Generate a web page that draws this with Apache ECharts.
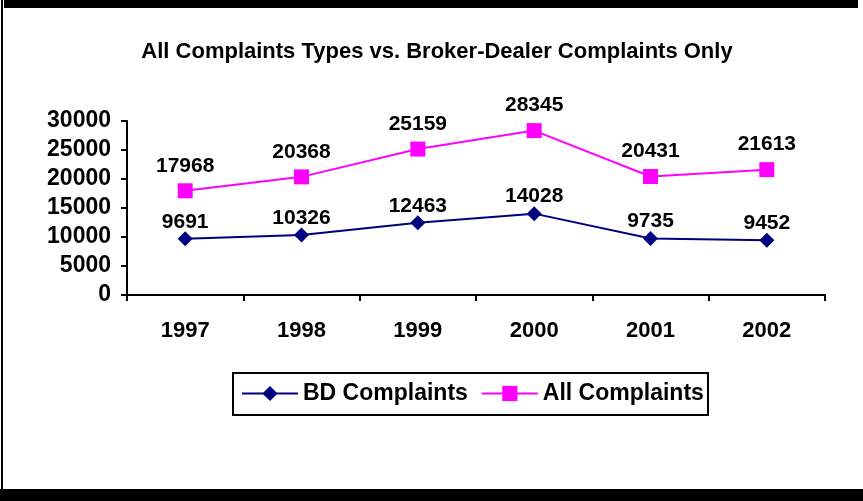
<!DOCTYPE html>
<html><head><meta charset="utf-8">
<script src="https://cdn.jsdelivr.net/npm/echarts@6/dist/echarts.min.js"></script>
<style>html,body{margin:0;padding:0;background:#fff}#c{width:863px;height:501px}</style>
</head><body><div id="c"></div>
<script>
const years = ['1997','1998','1999','2000','2001','2002'];
const bdComplaints = [9691, 10326, 12463, 14028, 9735, 9452];
const allComplaints = [17968, 20368, 25159, 28345, 20431, 21613];
const yTicks = [0, 5000, 10000, 15000, 20000, 25000, 30000];

const chart = echarts.init(document.getElementById('c'), null, {renderer:'canvas'});
const font = 'Arial, "Liberation Sans", sans-serif';
chart.setOption({
  animation: false,
  backgroundColor: '#fff',
  title: {
    text: 'All Complaints Types vs. Broker-Dealer Complaints Only',
    left: 432, top: 36, textAlign: 'center',
    textStyle: {fontFamily: font, fontWeight: 'bold', fontSize: 22, color: '#000'}
  },
  graphic: [
    {type:'rect', shape:{x:4, y:0, width:854, height:8}, style:{fill:'#000'}},
    {type:'rect', shape:{x:0, y:489, width:863, height:12}, style:{fill:'#000'}},
    {type:'rect', shape:{x:1, y:0, width:2, height:495}, style:{fill:'#000'}},
    {type:'rect', shape:{x:233, y:373, width:475, height:42}, style:{fill:'none', stroke:'#000', lineWidth:2}}
  ],
  legend: {
    left: 236, top: 377,
    itemWidth: 56, itemHeight: 19, itemGap: 13,
    textStyle: {fontFamily: font, fontWeight: 'bold', fontSize: 23, color: '#000'},
    data: ['BD Complaints', 'All Complaints']
  },
  grid: {left: 127, right: 38, top: 121, bottom: 206, containLabel: false},
  xAxis: {
    type: 'category', data: years, boundaryGap: true,
    axisLine: {lineStyle: {color: '#000', width: 2}},
    axisTick: {show: true, inside: false, length: 6, lineStyle: {color: '#000', width: 2}},
    axisLabel: {fontFamily: font, fontWeight: 'bold', fontSize: 22, color: '#000', margin: 25}
  },
  yAxis: {
    type: 'value', min: yTicks[0], max: yTicks[yTicks.length-1], interval: 5000,
    axisLine: {show: true, lineStyle: {color: '#000', width: 2}},
    axisTick: {show: true, length: 6, lineStyle: {color: '#000', width: 2}},
    splitLine: {show: false},
    axisLabel: {fontFamily: font, fontWeight: 'bold', fontSize: 23, color: '#000', margin: 16,
      formatter: v => String(v)}
  },
  series: [
    {
      name: 'BD Complaints', type: 'line', data: bdComplaints,
      symbol: 'diamond', symbolSize: 15,
      itemStyle: {color: '#000080'}, lineStyle: {color: '#000080', width: 2},
      label: {show: true, position: 'top', distance: -1, fontFamily: font, fontWeight: 'bold', fontSize: 21, color: '#000'}
    },
    {
      name: 'All Complaints', type: 'line', data: allComplaints,
      symbol: 'rect', symbolSize: 15,
      itemStyle: {color: '#FF00FF'}, lineStyle: {color: '#FF00FF', width: 2},
      label: {show: true, position: 'top', distance: 7, fontFamily: font, fontWeight: 'bold', fontSize: 21, color: '#000'}
    }
  ]
});
</script></body></html>
